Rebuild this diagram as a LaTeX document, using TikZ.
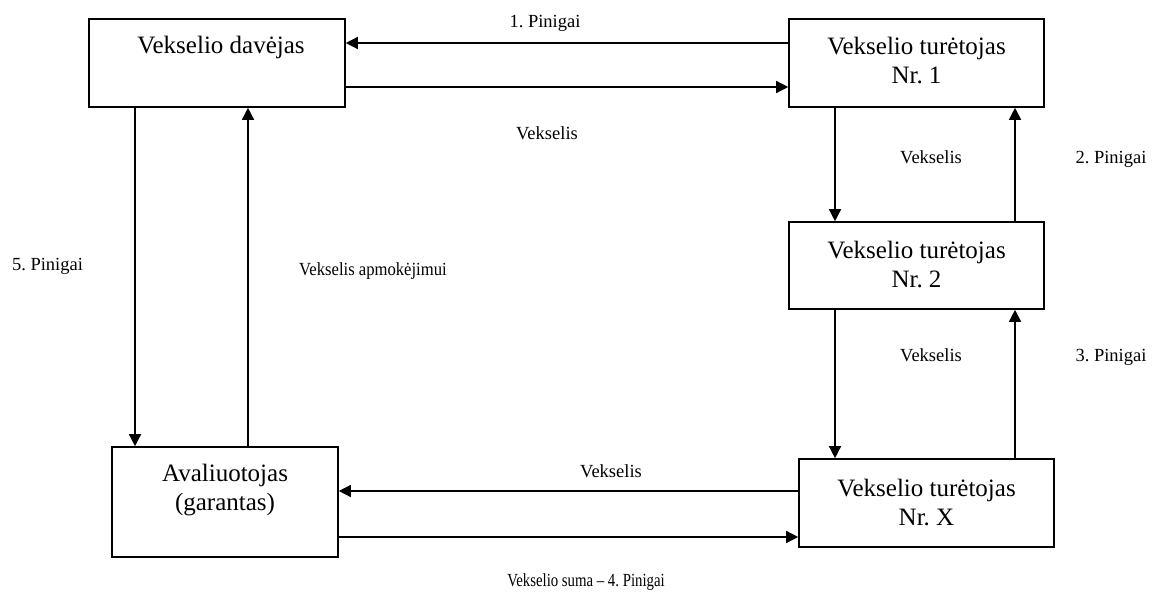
\documentclass[tikz,border=0pt]{standalone}
\usepackage{fontspec}
\setmainfont{Liberation Serif}
\usetikzlibrary{arrows.meta,calc}
\frenchspacing

\tikzset{
  box/.style={draw, line width=1.6pt, rectangle, inner sep=0pt},
  boxtext/.style={font=\fontsize{25}{29}\selectfont, align=center, inner sep=0pt},
  lbl/.style={font=\fontsize{18.5}{22}\selectfont, anchor=base, inner sep=0pt},
  arr/.style={line width=1.4pt, -{Triangle[length=12pt,width=12pt]}},
}

\begin{document}
\begin{tikzpicture}[x=1pt,y=-1pt]
  \useasboundingbox (0,0) rectangle (1153,594);

  % parties
  \node[box, minimum width=256pt, minimum height=88pt] (A) at (217,63) {};
  \node[box, minimum width=255pt, minimum height=88pt] (B) at (916.5,63) {};
  \node[box, minimum width=255pt, minimum height=87pt] (C) at (916.5,265.5) {};
  \node[box, minimum width=255pt, minimum height=88pt] (D) at (926.5,503) {};
  \node[box, minimum width=226pt, minimum height=110pt] (E) at (225,502) {};

  \node[boxtext] (tA) at (221,47) {Vekselio davėjas};
  \node[boxtext] (tB) at (916.5,61) {Vekselio turėtojas\\Nr. 1};
  \node[boxtext] (tC) at (916.5,265) {Vekselio turėtojas\\Nr. 2};
  \node[boxtext] (tD) at (926.5,502) {Vekselio turėtojas\\Nr. X};
  \node[boxtext] (tE) at (225,490) {Avaliuotojas\\(garantas)};

  % flows along the top
  \draw[arr] ([yshift=20pt]B.west) -- ([yshift=20pt]B.west -| A.east);
  \draw[arr] ([yshift=-24pt]A.east) -- ([yshift=-24pt]A.east -| B.west);

  % holder chain
  \draw[arr] ([xshift=-81.5pt]B.south) -- ([xshift=-81.5pt]B.south |- C.north);
  \draw[arr] ([xshift=98.5pt]C.north) -- ([xshift=98.5pt]C.north |- B.south);
  \draw[arr] ([xshift=-81.5pt]C.south) -- ([xshift=-81.5pt]C.south |- D.north);
  \draw[arr] ([xshift=88.5pt]D.north) -- ([xshift=88.5pt]D.north |- C.south);

  % flows along the bottom
  \draw[arr] ([yshift=12pt]D.west) -- ([yshift=12pt]D.west -| E.east);
  \draw[arr] ([yshift=-35pt]E.east) -- ([yshift=-35pt]E.east -| D.west);

  % left side
  \draw[arr] ([xshift=-82pt]A.south) -- ([xshift=-82pt]A.south |- E.north);
  \draw[arr] ([xshift=23pt]E.north) -- ([xshift=23pt]E.north |- A.south);

  % labels
  \node[lbl] (l1) at (545,28) {1. Pinigai};
  \node[lbl] (l2) at (547,139) {Vekselis};
  \node[lbl] (l3) at (931,163) {Vekselis};
  \node[lbl] (l4) at (1111,163) {2. Pinigai};
  \node[lbl] (l5) at (931,361) {Vekselis};
  \node[lbl] (l6) at (1111,361) {3. Pinigai};
  \node[lbl] (l7) at (47.5,270) {5. Pinigai};
  \node[lbl, xscale=0.9] (l8) at (373,275) {Vekselis apmokėjimui};
  \node[lbl] (l9) at (611,477) {Vekselis};
  \node[lbl, xscale=0.8] (l10) at (586,586) {Vekselio suma – 4. Pinigai};
\end{tikzpicture}
\end{document}
